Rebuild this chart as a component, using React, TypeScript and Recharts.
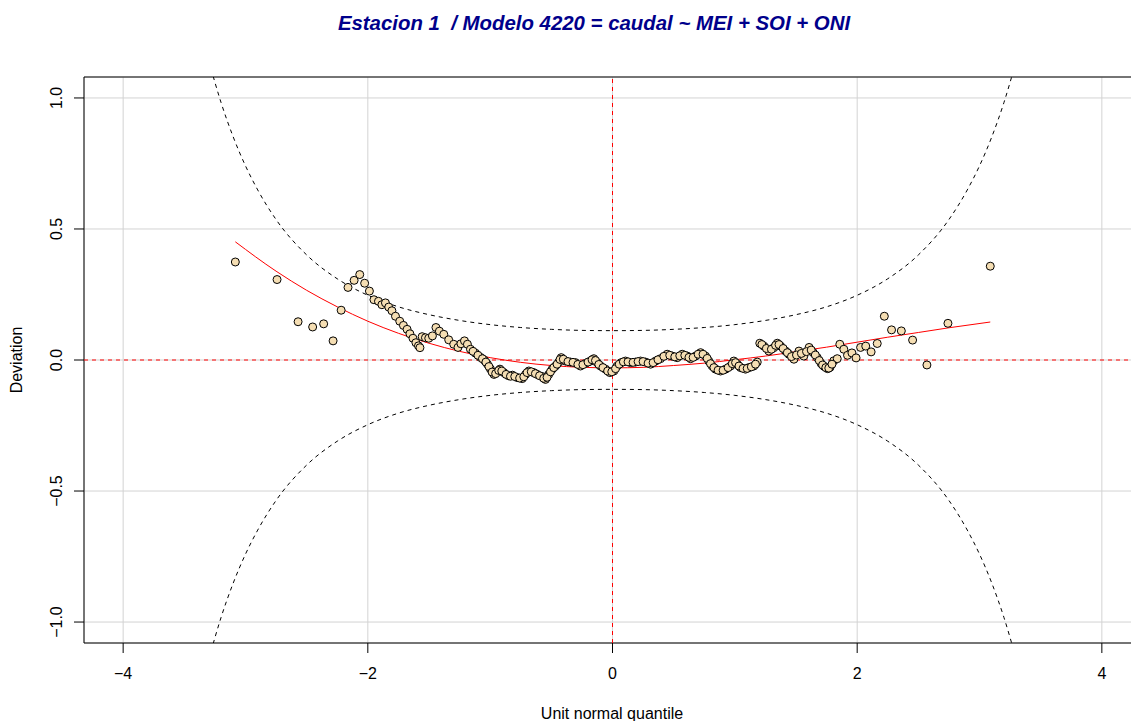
import React from "react";
import {
  ComposedChart,
  Scatter,
  Line,
  XAxis,
  YAxis,
  CartesianGrid,
  ReferenceLine,
  ReferenceArea,
} from "recharts";

const FONT = '"Liberation Sans", Arial, Helvetica, sans-serif';

const title = "Estacion 1  / Modelo 4220 = caudal ~ MEI + SOI + ONI";
const xLabel = "Unit normal quantile";
const yLabel = "Deviation";

const xTicks = [-4, -2, 0, 2, 4];
const yTicks = [-1, -0.5, 0, 0.5, 1];

// Worm plot points: unit normal quantile vs. deviation
const quantiles = [
  -3.083, -2.742, -2.57, -2.451, -2.361, -2.284, -2.218, -2.162, -2.112, -2.066,
  -2.026, -1.987, -1.95, -1.913, -1.885, -1.856, -1.829, -1.803, -1.774, -1.739,
  -1.709, -1.679, -1.656, -1.631, -1.607, -1.586, -1.574, -1.556, -1.529, -1.502,
  -1.472, -1.443, -1.415, -1.379, -1.339, -1.298, -1.263, -1.239, -1.21, -1.186,
  -1.161, -1.12, -1.079, -1.047, -1.022, -0.998, -0.969, -0.94, -0.92, -0.889,
  -0.85, -0.818, -0.779, -0.738, -0.711, -0.684, -0.644, -0.616, -0.575, -0.548,
  -0.521, -0.493, -0.466, -0.439, -0.419, -0.384, -0.343, -0.303, -0.262, -0.221,
  -0.18, -0.153, -0.125, -0.098, -0.057, -0.022, 0.011, 0.038, 0.071, 0.106,
  0.147, 0.188, 0.229, 0.27, 0.311, 0.352, 0.392, 0.447, 0.488, 0.529,
  0.57, 0.611, 0.638, 0.679, 0.72, 0.76, 0.787, 0.815, 0.842, 0.883,
  0.924, 0.965, 0.992, 1.02, 1.047, 1.087, 1.114, 1.155, 1.183, 1.204,
  1.237, 1.278, 1.319, 1.347, 1.374, 1.415, 1.442, 1.483, 1.524, 1.564,
  1.607, 1.641, 1.674, 1.705, 1.729, 1.758, 1.778, 1.809, 1.837, 1.858,
  1.891, 1.921, 1.957, 1.991, 2.028, 2.07, 2.114, 2.164, 2.222, 2.281,
  2.361, 2.453, 2.57, 2.742, 3.088,
];

const deviations = [
  0.374, 0.307, 0.146, 0.126, 0.138, 0.073, 0.19, 0.277, 0.304, 0.326,
  0.293, 0.263, 0.23, 0.224, 0.211, 0.218, 0.202, 0.188, 0.167, 0.148,
  0.132, 0.117, 0.1, 0.083, 0.066, 0.054, 0.047, 0.089, 0.085, 0.083,
  0.092, 0.124, 0.11, 0.098, 0.077, 0.06, 0.048, 0.062, 0.073, 0.06,
  0.041, 0.026, 0.01, -0.001, -0.016, -0.034, -0.055, -0.045, -0.035, -0.048,
  -0.06, -0.058, -0.067, -0.071, -0.055, -0.042, -0.048, -0.055, -0.063, -0.074,
  -0.055, -0.035, -0.023, -0.008, 0.009, -0.004, -0.008, -0.01, -0.023, -0.013,
  -0.004, 0.005, -0.01, -0.023, -0.035, -0.048, -0.042, -0.023, -0.01, -0.004,
  -0.01, -0.008, -0.004, -0.008, -0.016, -0.004, 0.005, 0.022, 0.015, 0.009,
  0.022, 0.015, 0.005, 0.015, 0.028, 0.015, -0.004, -0.023, -0.035, -0.042,
  -0.035, -0.023, -0.004, -0.016, -0.029, -0.035, -0.029, -0.023, -0.008, 0.064,
  0.053, 0.034, 0.047, 0.064, 0.053, 0.034, 0.022, 0.003, 0.034, 0.015,
  0.048, 0.028, 0.009, -0.013, -0.024, -0.033, -0.028, -0.003, 0.005, 0.06,
  0.041, 0.018, 0.027, 0.008, 0.048, 0.053, 0.031, 0.063, 0.167, 0.115,
  0.111, 0.076, -0.019, 0.14, 0.358,
];

// Densely packed central stretch of the worm
const centralQuantiles = [
  -1.14, -1.1, -1.063, -1.035, -1.01, -0.984, -0.955, -0.93, -0.905, -0.87,
  -0.834, -0.799, -0.759, -0.725, -0.698, -0.664, -0.63, -0.596, -0.562, -0.535,
  -0.507, -0.48, -0.453, -0.429, -0.402, -0.364, -0.323, -0.283, -0.242, -0.2,
  -0.167, -0.139, -0.112, -0.078, -0.04, -0.006, 0.025, 0.055, 0.089, 0.127,
  0.168, 0.209, 0.25, 0.291, 0.332, 0.372, 0.42, 0.468, 0.509, 0.55,
  0.591, 0.625, 0.659, 0.7, 0.74, 0.774, 0.801, 0.829, 0.863, 0.904,
  0.945, 0.979, 1.006, 1.034, 1.067, 1.101, 1.135, 1.169, 1.221, 1.258,
  1.299, 1.333, 1.361, 1.395, 1.429, 1.463, 1.504, 1.544, 1.586, 1.624,
  1.658, 1.69, 1.717, 1.744, 1.768, 1.794,
];
const centralDeviations = [
  0.033, 0.018, 0.005, -0.008, -0.025, -0.046, -0.052, -0.04, -0.042, -0.055,
  -0.062, -0.063, -0.069, -0.064, -0.048, -0.045, -0.052, -0.06, -0.07, -0.066,
  -0.045, -0.029, -0.016, 0.002, 0.003, -0.006, -0.009, -0.017, -0.018, -0.008,
  0.001, -0.002, -0.017, -0.029, -0.042, -0.045, -0.033, -0.016, -0.007, -0.007,
  -0.009, -0.006, -0.006, -0.012, -0.01, 0.001, 0.014, 0.018, 0.012, 0.016,
  0.018, 0.01, 0.01, 0.022, 0.022, 0.006, -0.014, -0.029, -0.039, -0.039,
  -0.029, -0.014, -0.01, -0.023, -0.032, -0.032, -0.026, -0.016, 0.059, 0.044,
  0.041, 0.056, 0.059, 0.044, 0.028, 0.013, 0.019, 0.025, 0.032, 0.038,
  0.019, -0.002, -0.019, -0.029, -0.031, -0.016,
];

// Fitted cubic curve through the worm
const fitX = [
  -3.083, -2.75, -2.5, -2.25, -2, -1.75, -1.5, -1.25, -1, -0.75, -0.5, -0.25, 0,
  0.25, 0.5, 0.75, 1, 1.25, 1.5, 1.75, 2, 2.25, 2.5, 2.75, 3.088,
];
const fitY = [
  0.451, 0.339, 0.266, 0.203, 0.148, 0.102, 0.064, 0.033, 0.009, -0.009, -0.021, -0.028, -0.03,
  -0.028, -0.021, -0.012, 0.001, 0.015, 0.032, 0.049, 0.068, 0.087, 0.105, 0.123, 0.145,
];

// 95% confidence bands
const bandX = [
  -3.3, -3.2, -3.1, -3.0, -2.9, -2.75, -2.5, -2.25, -2.0, -1.75, -1.5, -1.25, -1.0, -0.75, -0.5, -0.25,
  0, 0.25, 0.5, 0.75, 1.0, 1.25, 1.5, 1.75, 2.0, 2.25, 2.5, 2.75, 2.9, 3.0, 3.1, 3.2, 3.3,
];
const upperBand = [
  1.142, 0.983, 0.851, 0.741, 0.649, 0.536, 0.401, 0.31, 0.247, 0.203, 0.173, 0.151, 0.135, 0.124, 0.117, 0.113,
  0.112, 0.113, 0.117, 0.124, 0.135, 0.151, 0.173, 0.203, 0.247, 0.31, 0.401, 0.536, 0.649, 0.741, 0.851, 0.983, 1.142,
];
const lowerBand = [
  -1.142, -0.983, -0.851, -0.741, -0.649, -0.536, -0.401, -0.31, -0.247, -0.203, -0.173, -0.151, -0.135, -0.124, -0.117, -0.113,
  -0.112, -0.113, -0.117, -0.124, -0.135, -0.151, -0.173, -0.203, -0.247, -0.31, -0.401, -0.536, -0.649, -0.741, -0.851, -0.983, -1.142,
];

const points = [
  ...quantiles.map((x, i) => ({ x, y: deviations[i] })),
  ...centralQuantiles.map((x, i) => ({ x, y: centralDeviations[i] })),
];
const fitted = fitX.map((x, i) => ({ x, y: fitY[i] }));
const upper = bandX.map((x, i) => ({ x, y: upperBand[i] }));
const lower = bandX.map((x, i) => ({ x, y: lowerBand[i] }));

const minus = (s: string) => s.replace("-", "\u2212");

const YTick = (props: any) => {
  const { y, payload } = props;
  const label = minus(Number(payload.value).toFixed(1));
  return (
    <text
      x={62}
      y={y}
      transform={`rotate(-90, 62, ${y})`}
      textAnchor="middle"
      fill="#000"
      fontSize={16}
      fontFamily={FONT}
    >
      {label}
    </text>
  );
};

const WormDot = (props: any) => {
  const { cx, cy } = props;
  if (cx == null || cy == null) return null;
  return <circle cx={cx} cy={cy} r={4} fill="#F5DEB3" stroke="#000" strokeWidth={1} />;
};

export default function App() {
  return (
    <div
      style={{
        position: "absolute",
        left: 0,
        top: 0,
        width: 1131,
        height: 721,
        overflow: "hidden",
        background: "#fff",
      }}
    >
      <ComposedChart
        width={1160}
        height={721}
        margin={{ top: 77, right: 19, bottom: 0, left: 0 }}
      >
        <CartesianGrid stroke="#D3D3D3" strokeWidth={1} />
        <XAxis
          type="number"
          dataKey="x"
          domain={[-4.32, 4.32]}
          ticks={xTicks}
          interval={0}
          allowDataOverflow
          axisLine={false}
          tickSize={10}
          tickMargin={15}
          tickLine={{ stroke: "#000" }}
          tick={{ fill: "#000", fontSize: 16, fontFamily: FONT }}
          tickFormatter={(v: number) => minus(String(v))}
          height={78}
        />
        <YAxis
          type="number"
          dataKey="y"
          domain={[-1.08, 1.08]}
          ticks={yTicks}
          interval={0}
          allowDataOverflow
          axisLine={false}
          tickSize={10}
          tickLine={{ stroke: "#000" }}
          tick={<YTick />}
          width={84}
        />
        <Scatter data={points} dataKey="y" shape={<WormDot />} isAnimationActive={false} />
        <Line
          data={upper}
          dataKey="y"
          type="monotone"
          stroke="#000"
          strokeWidth={1}
          strokeDasharray="4 4"
          dot={false}
          activeDot={false}
          isAnimationActive={false}
        />
        <Line
          data={lower}
          dataKey="y"
          type="monotone"
          stroke="#000"
          strokeWidth={1}
          strokeDasharray="4 4"
          dot={false}
          activeDot={false}
          isAnimationActive={false}
        />
        <Line
          data={fitted}
          dataKey="y"
          type="monotone"
          stroke="#FF0000"
          strokeWidth={1}
          dot={false}
          activeDot={false}
          isAnimationActive={false}
        />
        <ReferenceLine y={0} stroke="#FF0000" strokeDasharray="4 4" ifOverflow="visible" />
        <ReferenceLine x={0} stroke="#FF0000" strokeDasharray="4 4" ifOverflow="visible" />
        <ReferenceArea
          x1={-4.32}
          x2={4.32}
          y1={-1.08}
          y2={1.08}
          fill="none"
          fillOpacity={0}
          stroke="#000"
          strokeWidth={1}
          ifOverflow="visible"
        />
      </ComposedChart>
      <svg
        width={1131}
        height={721}
        style={{ position: "absolute", left: 0, top: 0, pointerEvents: "none" }}
      >
        <text
          x={594}
          y={30}
          textAnchor="middle"
          fill="#00008B"
          fontSize={20.4}
          fontWeight="bold"
          fontStyle="italic"
          fontFamily={FONT}
          style={{ whiteSpace: "pre" }}
        >
          {title}
        </text>
        <text x={612} y={719} textAnchor="middle" fill="#000" fontSize={16} fontFamily={FONT}>
          {xLabel}
        </text>
        <text
          x={22}
          y={360}
          transform="rotate(-90, 22, 360)"
          textAnchor="middle"
          fill="#000"
          fontSize={16}
          fontFamily={FONT}
        >
          {yLabel}
        </text>
      </svg>
    </div>
  );
}
